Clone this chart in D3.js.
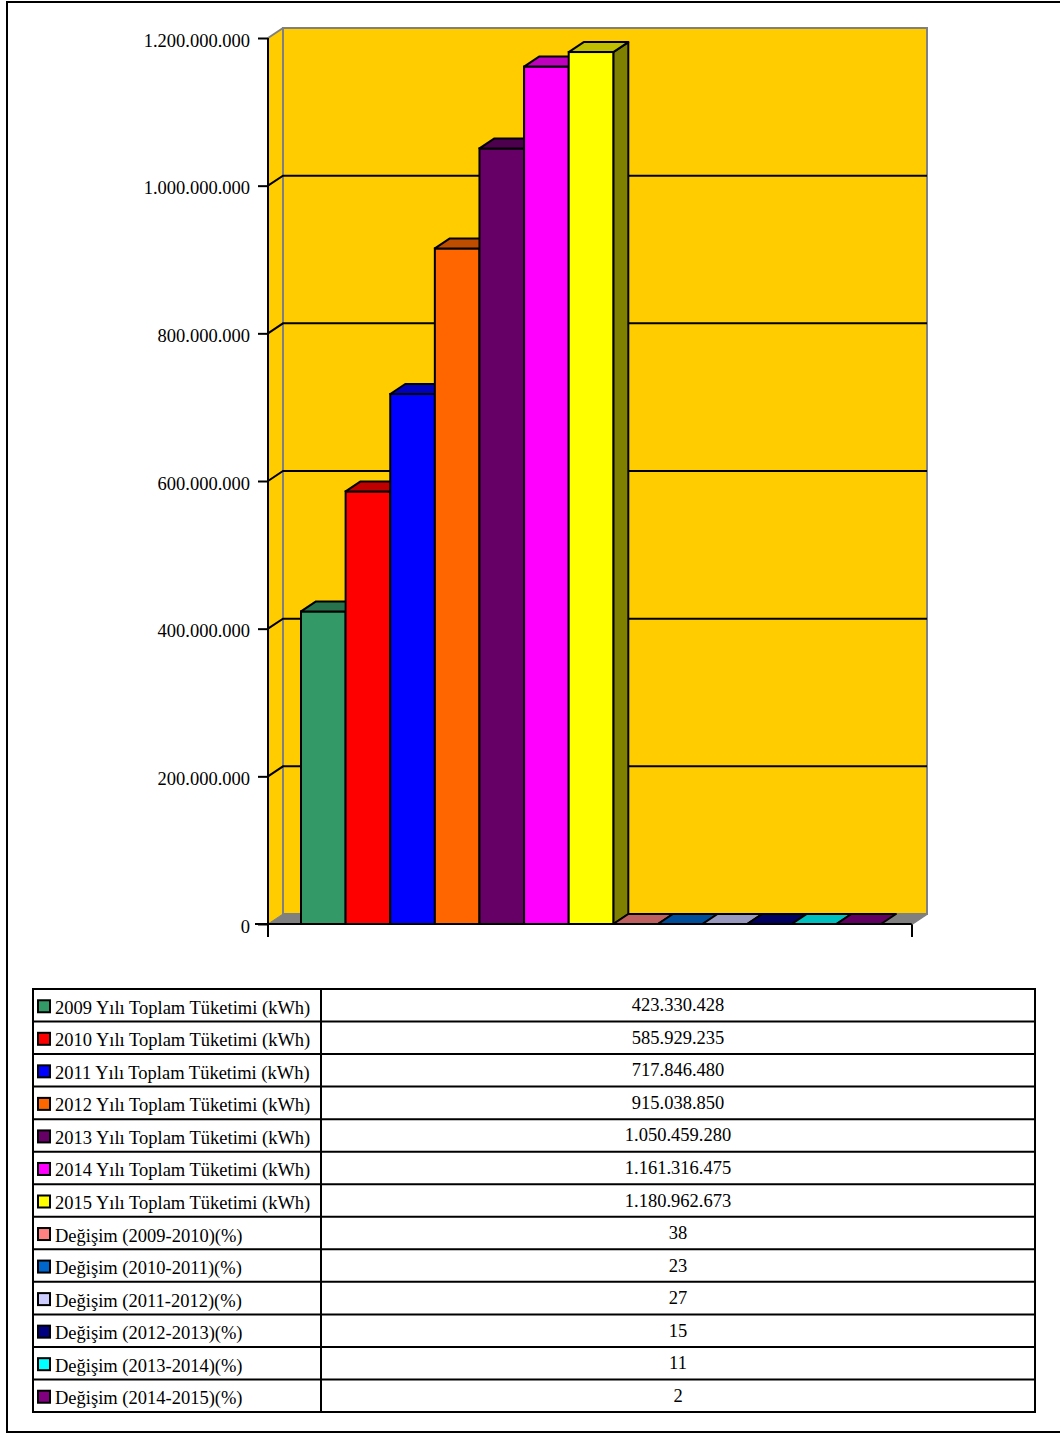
<!DOCTYPE html>
<html>
<head>
<meta charset="utf-8">
<script src="https://cdn.jsdelivr.net/npm/d3@7"></script>
<style>
  body { margin: 0; background: #fff; }
  svg text { font-family: "Liberation Serif", "Times New Roman", serif; }
</style>
</head>
<body>
<svg id="chart" width="1060" height="1434"></svg>
<script>
// series as listed in the data table
const seriesNames = [
    "2009 Yılı Toplam Tüketimi (kWh)",
    "2010 Yılı Toplam Tüketimi (kWh)",
    "2011 Yılı Toplam Tüketimi (kWh)",
    "2012 Yılı Toplam Tüketimi (kWh)",
    "2013 Yılı Toplam Tüketimi (kWh)",
    "2014 Yılı Toplam Tüketimi (kWh)",
    "2015 Yılı Toplam Tüketimi (kWh)",
    "Değişim (2009-2010)(%)",
    "Değişim (2010-2011)(%)",
    "Değişim (2011-2012)(%)",
    "Değişim (2012-2013)(%)",
    "Değişim (2013-2014)(%)",
    "Değişim (2014-2015)(%)"
];
const seriesValues = [423330428, 585929235, 717846480, 915038850, 1050459280, 1161316475, 1180962673, 38, 23, 27, 15, 11, 2];
const seriesColors = ["#339966", "#FF0000", "#0000FF", "#FF6600", "#660066", "#FF00FF", "#FFFF00",
                      "#FF8080", "#0066CC", "#CCCCFF", "#000080", "#00FFFF", "#800080"];
const yTicks = [0, 200000000, 400000000, 600000000, 800000000, 1000000000, 1200000000];

const trFormat = d3.formatLocale({ decimal: ",", thousands: ".", grouping: [3], currency: ["", ""] }).format(",d");

const svg = d3.select("#chart");
const dx = 15, dy = -10;          // 3d depth offset
const plotL = 268, plotR = 912, plotB = 924, plotT = 38;
const fontSize = 18.5;

const y = d3.scaleLinear().domain([0, 1200000000]).range([plotB, plotT]);
const x = d3.scaleBand().domain(seriesNames).range([301, 881]).padding(0);

const shade = (c, k) => {
    const r = d3.rgb(c);
    return d3.rgb(r.r * k, r.g * k, r.b * k).formatHex();
};
const poly = pts => "M" + pts.map(p => p.join(",")).join("L") + "Z";

// outer frame
svg.append("rect")
    .attr("x", 7).attr("y", 2).attr("width", 1060).attr("height", 1430)
    .attr("fill", "none").attr("stroke", "#000").attr("stroke-width", 2);

const plot = svg.append("g");

// side wall + back wall
plot.append("path")
    .attr("d", poly([[plotL, plotT], [plotL + dx, plotT + dy], [plotL + dx, plotB + dy], [plotL, plotB]]))
    .attr("fill", "#FFCC00");
plot.append("rect")
    .attr("x", plotL + dx).attr("y", plotT + dy)
    .attr("width", plotR - plotL).attr("height", plotB - plotT)
    .attr("fill", "#FFCC00").attr("stroke", "#808080").attr("stroke-width", 2);
plot.append("line")
    .attr("x1", plotL).attr("y1", plotT).attr("x2", plotL + dx).attr("y2", plotT + dy)
    .attr("stroke", "#808080").attr("stroke-width", 2);

// floor
plot.append("path")
    .attr("d", poly([[plotL, plotB], [plotR, plotB], [plotR + dx, plotB + dy], [plotL + dx, plotB + dy]]))
    .attr("fill", "#808080").attr("stroke", "#808080").attr("stroke-width", 1);

// gridlines on wall
const grid = plot.append("g");
yTicks.filter(t => t > 0 && t < 1200000000).forEach(t => {
    grid.append("path")
        .attr("d", `M${plotL},${y(t)}L${plotL + dx},${y(t) + dy}L${plotR + dx},${y(t) + dy}`)
        .attr("fill", "none").attr("stroke", "#000").attr("stroke-width", 2);
});

// bars
const bars = plot.append("g");
seriesNames.forEach((name, i) => {
    const v = seriesValues[i];
    const x0 = x(name), x1 = x0 + x.bandwidth();
    const yt = y(v), c = seriesColors[i];
    const g = bars.append("g");
    if (plotB - yt > 1) {
        g.append("path")
            .attr("d", poly([[x1, yt], [x1 + dx, yt + dy], [x1 + dx, plotB + dy], [x1, plotB]]))
            .attr("fill", shade(c, 0.5)).attr("stroke", "#000").attr("stroke-width", 2)
            .attr("stroke-linejoin", "round");
        g.append("rect")
            .attr("x", x0).attr("y", yt).attr("width", x1 - x0).attr("height", plotB - yt)
            .attr("fill", c).attr("stroke", "#000").attr("stroke-width", 2);
    }
    g.append("path")
        .attr("d", poly([[x0, yt], [x1, yt], [x1 + dx, yt + dy], [x0 + dx, yt + dy]]))
        .attr("fill", shade(c, 0.75)).attr("stroke", "#000").attr("stroke-width", 2)
        .attr("stroke-linejoin", "round");
});

// axes
const axes = plot.append("g").attr("stroke", "#000").attr("stroke-width", 2);
axes.append("line").attr("x1", plotL).attr("y1", plotT).attr("x2", plotL).attr("y2", plotB + 13);
axes.append("line").attr("x1", plotL - 13).attr("y1", plotB).attr("x2", plotR).attr("y2", plotB);
axes.append("line").attr("x1", plotR).attr("y1", plotB).attr("x2", plotR).attr("y2", plotB + 13);
axes.append("line").attr("x1", plotR).attr("y1", plotB).attr("x2", plotR + dx).attr("y2", plotB + dy)
    .attr("stroke", "#808080");

const yAxis = d3.axisLeft(y).tickValues(yTicks).tickSize(10).tickPadding(8).tickFormat(trFormat);
const ya = plot.append("g").attr("transform", `translate(${plotL},0)`).call(yAxis);
ya.select(".domain").remove();
ya.selectAll(".tick line").attr("stroke", "#000").attr("stroke-width", 2);
ya.selectAll(".tick text")
    .attr("font-family", "Liberation Serif, Times New Roman, serif")
    .attr("font-size", fontSize).attr("fill", "#000")
    .attr("dy", "0.38em").attr("y", 1);

// data table
const tblX0 = 33, tblX1 = 1035, tblY0 = 989, tblY1 = 1412, colX = 321;
const rowH = (tblY1 - tblY0) / seriesNames.length;
const table = svg.append("g");

seriesNames.forEach((name, i) => {
    const ry = tblY0 + i * rowH;
    table.append("rect")
        .attr("x", 38).attr("y", ry + rowH / 2 - 5).attr("width", 12).attr("height", 12)
        .attr("fill", seriesColors[i]).attr("stroke", "#000").attr("stroke-width", 2);
    table.append("text")
        .attr("x", 55).attr("y", ry + rowH / 2 + 8.5)
        .attr("font-size", fontSize).attr("fill", "#000")
        .text(name);
    table.append("text")
        .attr("x", (colX + tblX1) / 2).attr("y", ry + rowH / 2 + 6)
        .attr("text-anchor", "middle").attr("font-size", fontSize).attr("fill", "#000")
        .text(trFormat(seriesValues[i]));
    if (i > 0) {
        table.append("line")
            .attr("x1", tblX0).attr("x2", tblX1).attr("y1", ry).attr("y2", ry)
            .attr("stroke", "#000").attr("stroke-width", 2);
    }
});
table.append("rect")
    .attr("x", tblX0).attr("y", tblY0).attr("width", tblX1 - tblX0).attr("height", tblY1 - tblY0)
    .attr("fill", "none").attr("stroke", "#000").attr("stroke-width", 2);
table.append("line")
    .attr("x1", colX).attr("x2", colX).attr("y1", tblY0).attr("y2", tblY1)
    .attr("stroke", "#000").attr("stroke-width", 2);
</script>
</body>
</html>
